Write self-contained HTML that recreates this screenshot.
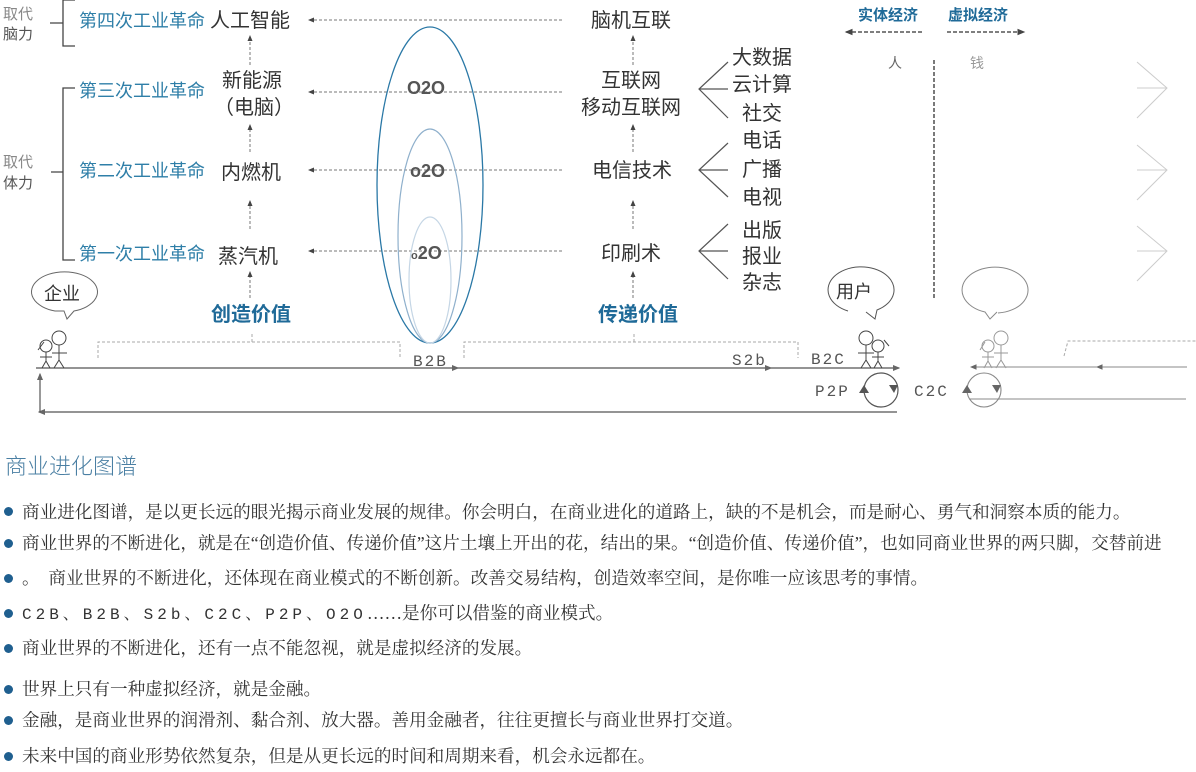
<!DOCTYPE html>
<html><head><meta charset="utf-8"><style>
body{margin:0;width:1196px;height:772px;background:#fff;position:relative;overflow:hidden;font-family:"Liberation Sans","Noto Sans CJK SC",sans-serif}
svg{position:absolute;left:0;top:0}
.t{position:absolute;font-family:"Liberation Serif","Noto Serif CJK SC",serif;font-size:17.6px;color:#333;white-space:nowrap;line-height:20px}
.b{position:absolute;left:4px;width:9px;height:9px;border-radius:50%;background:#1f5f8f}
</style></head><body>
<svg width="1196" height="430" viewBox="0 0 1196 430">
<defs>
<marker id="a" markerWidth="6" markerHeight="6" refX="5" refY="3" orient="auto"><path d="M0,0.5 L6,3 L0,5.5z" fill="#444"/></marker>
<marker id="g" markerWidth="6" markerHeight="6" refX="5" refY="3" orient="auto"><path d="M0,0.5 L6,3 L0,5.5z" fill="#666"/></marker>
</defs>
<g font-family="Liberation Sans,Noto Sans CJK SC,sans-serif">
<text x="3" y="19" font-size="15" fill="#888">取代</text>
<text x="3" y="39" font-size="15" fill="#555">脑力</text>
<text x="3" y="167" font-size="15" fill="#888">取代</text>
<text x="3" y="188" font-size="15" fill="#555">体力</text>
<g stroke="#444" stroke-width="1.3" fill="none">
<path d="M75,0 H63 V46 H75 M63,23 H50"/>
<path d="M75,88 H63 V260 H75 M63,172 H51"/>
</g>
<g font-size="18" fill="#2f7fa8">
<text x="79" y="27">第四次工业革命</text>
<text x="79" y="97">第三次工业革命</text>
<text x="79" y="177">第二次工业革命</text>
<text x="79" y="260">第一次工业革命</text>
</g>
<g font-size="20" fill="#333">
<text x="210" y="27">人工智能</text>
<text x="222" y="87">新能源</text>
<text x="214" y="114">（电脑）</text>
<text x="221" y="179">内燃机</text>
<text x="218" y="263">蒸汽机</text>
<text x="591" y="27">脑机互联</text>
<text x="601" y="87">互联网</text>
<text x="581" y="114">移动互联网</text>
<text x="592" y="177">电信技术</text>
<text x="601" y="260">印刷术</text>
<text x="732" y="64">大数据</text>
<text x="732" y="91">云计算</text>
<text x="742" y="120">社交</text>
<text x="742" y="147">电话</text>
<text x="742" y="176">广播</text>
<text x="742" y="204">电视</text>
<text x="742" y="237">出版</text>
<text x="742" y="263">报业</text>
<text x="742" y="289">杂志</text>
</g>
<g font-size="20" font-weight="bold" fill="#1f6a98">
<text x="211" y="321">创造价值</text>
<text x="598" y="321">传递价值</text>
<text x="858" y="20" font-size="15">实体经济</text>
<text x="948" y="20" font-size="15">虚拟经济</text>
</g>
<g stroke="#777" stroke-width="1" stroke-dasharray="3,2" fill="none">
<path d="M562,20 H309" marker-end="url(#a)"/>
<path d="M562,92 H309" marker-end="url(#a)"/>
<path d="M562,170 H309" marker-end="url(#a)"/>
<path d="M562,251 H309" marker-end="url(#a)"/>
<path d="M250,65 V36" marker-end="url(#a)"/>
<path d="M250,152 V125" marker-end="url(#a)"/>
<path d="M250,229 V201" marker-end="url(#a)"/>
<path d="M250,298 V272" marker-end="url(#a)"/>
<path d="M633,65 V36" marker-end="url(#a)"/>
<path d="M633,152 V125" marker-end="url(#a)"/>
<path d="M633,229 V201" marker-end="url(#a)"/>
<path d="M633,298 V272" marker-end="url(#a)"/>
</g>
<g stroke="#aaa" stroke-width="1" stroke-dasharray="3,2" fill="none">
<path d="M98,358 V342 H400 V358 M252,342 V332"/>
<path d="M464,358 V342 H798 V358 M634,342 V332"/>
<path d="M1064,356 L1068,341 H1196"/>
</g>
<g stroke="#333" stroke-width="1.3" stroke-dasharray="4,2" fill="none">
<path d="M922,32 H846" marker-end="url(#a)"/>
<path d="M947,32 H1024" marker-end="url(#a)"/>
<path d="M934,60 V298"/>
</g>
<text x="888" y="68" font-size="14" fill="#666">人</text>
<text x="970" y="68" font-size="14" fill="#999">钱</text>
<g stroke="#555" stroke-width="1.2" fill="none">
<path d="M728,62 L699,89 L728,118 M699,89 H728"/>
<path d="M728,143 L699,170 L728,197 M699,170 H728"/>
<path d="M728,224 L699,251 L728,279 M699,251 H728"/>
</g>
<g stroke="#ccc" stroke-width="1" fill="none">
<path d="M1137,62 L1167,88 L1137,118 M1137,88 H1167"/>
<path d="M1137,145 L1167,170 L1137,200 M1137,170 H1167"/>
<path d="M1137,226 L1167,251 L1137,281 M1137,251 H1167"/>
</g>
<g fill="none">
<ellipse cx="430" cy="185" rx="53" ry="158" stroke="#2a78a6" stroke-width="1.3"/>
<ellipse cx="430" cy="236" rx="32" ry="107" stroke="#8fb0cc" stroke-width="1.2"/>
<ellipse cx="430" cy="280" rx="21" ry="63" stroke="#c5d6e5" stroke-width="1.2"/>
</g>
<g font-size="18" font-weight="bold" fill="#555">
<text x="407" y="94">O2O</text>
<text x="410" y="177">o2O</text>
<text x="411" y="259"><tspan font-size="11">o</tspan>2O</text>
</g>
<g font-family="Liberation Mono,monospace" font-size="16" fill="#555" letter-spacing="2">
<text x="413" y="366">B2B</text>
<text x="732" y="365">S2b</text>
<text x="811" y="364">B2C</text>
<text x="815" y="396">P2P</text>
<text x="914" y="396">C2C</text>
</g>
<g stroke="#555" stroke-width="1.2" fill="none">
<path d="M36,368 H458" marker-end="url(#g)"/>
<path d="M458,368 H771" marker-end="url(#g)"/>
<path d="M771,368 H899" marker-end="url(#g)"/>
<path d="M897,412 H39" marker-end="url(#g)"/>
<path d="M40,412 V374" marker-end="url(#g)"/>
<circle cx="881" cy="390" r="17"/>
</g>
<g stroke="#888" stroke-width="1.1" fill="none">
<path d="M1187,367 H1097" marker-end="url(#g)"/>
<path d="M1097,367 H971" marker-end="url(#g)"/>
<path d="M970,399 H1186"/>
<circle cx="984" cy="390" r="17"/>
</g>
<path d="M864,385 l-5,8 h10z M898,385 h-9 l5,8z" fill="#555"/>
<path d="M967,385 l-5,8 h10z M1001,385 h-9 l5,8z" fill="#666"/>
<g fill="none" stroke-width="1">
<path d="M55,311 A33,20 0 1 1 74,311 L67,319 L64,311z" stroke="#666"/>
<path d="M848,311 A33,23 0 1 1 877,310 L875,319 L866,312" stroke="#555"/>
<path d="M998,313 A33,23 0 1 0 985,312 L990,319 L997,312" stroke="#888"/>
</g>
<text x="44" y="300" font-size="18" fill="#333">企业</text>
<text x="836" y="298" font-size="18" fill="#333">用户</text>
<g stroke="#444" stroke-width="1" fill="none">
<circle cx="59" cy="338" r="7"/><path d="M59,345 V360 L54,368 M59,360 L64,368 M52,353 H67"/>
<circle cx="46" cy="346" r="6"/><path d="M46,352 V361 L42,368 M46,361 L50,368 M40,357 H52 M38,350 L44,342"/>
<circle cx="866" cy="338" r="7"/><path d="M866,345 V360 L861,368 M866,360 L871,368 M858,353 H874"/>
<circle cx="878" cy="346" r="6"/><path d="M878,352 V361 L874,368 M878,361 L882,368 M872,357 H884 M884,340 L889,346"/>
</g>
<g stroke="#999" stroke-width="1" fill="none">
<circle cx="1001" cy="338" r="7"/><path d="M1001,345 V360 L996,368 M1001,360 L1006,368 M994,353 H1008"/>
<circle cx="988" cy="346" r="6"/><path d="M988,352 V361 L984,368 M988,361 L992,368 M982,357 H994 M980,350 L985,342"/>
</g>
</g>
</svg>
<div style="position:absolute;left:5px;top:449px;font-size:22px;color:#4a7fa3;font-family:'Liberation Sans','Noto Sans CJK SC',sans-serif;font-weight:300">商业进化图谱</div>
<div class="b" style="top:507px"></div><div class="t" style="left:22px;top:502px">商业进化图谱，是以更长远的眼光揭示商业发展的规律。你会明白，在商业进化的道路上，缺的不是机会，而是耐心、勇气和洞察本质的能力。</div>
<div class="b" style="top:539px"></div><div class="t" style="left:22px;top:533px">商业世界的不断进化，就是在“创造价值、传递价值”这片土壤上开出的花，结出的果。“创造价值、传递价值”，也如同商业世界的两只脚，交替前进</div>
<div class="b" style="top:574px"></div><div class="t" style="left:22px;top:568px">。&nbsp;&nbsp;商业世界的不断进化，还体现在商业模式的不断创新。改善交易结构，创造效率空间，是你唯一应该思考的事情。</div>
<div class="b" style="top:609px"></div><div class="t" style="left:22px;top:603px"><span style="letter-spacing:4px;font-family:'Liberation Mono','Noto Serif CJK SC',monospace;font-size:16px">C2B、B2B、S2b、C2C、P2P、O2O</span>……是你可以借鉴的商业模式。</div>
<div class="b" style="top:644px"></div><div class="t" style="left:22px;top:638px">商业世界的不断进化，还有一点不能忽视，就是虚拟经济的发展。</div>
<div class="b" style="top:685px"></div><div class="t" style="left:22px;top:679px">世界上只有一种虚拟经济，就是金融。</div>
<div class="b" style="top:716px"></div><div class="t" style="left:22px;top:710px">金融，是商业世界的润滑剂、黏合剂、放大器。善用金融者，往往更擅长与商业世界打交道。</div>
<div class="b" style="top:752px"></div><div class="t" style="left:22px;top:746px">未来中国的商业形势依然复杂，但是从更长远的时间和周期来看，机会永远都在。</div>
</body></html>
